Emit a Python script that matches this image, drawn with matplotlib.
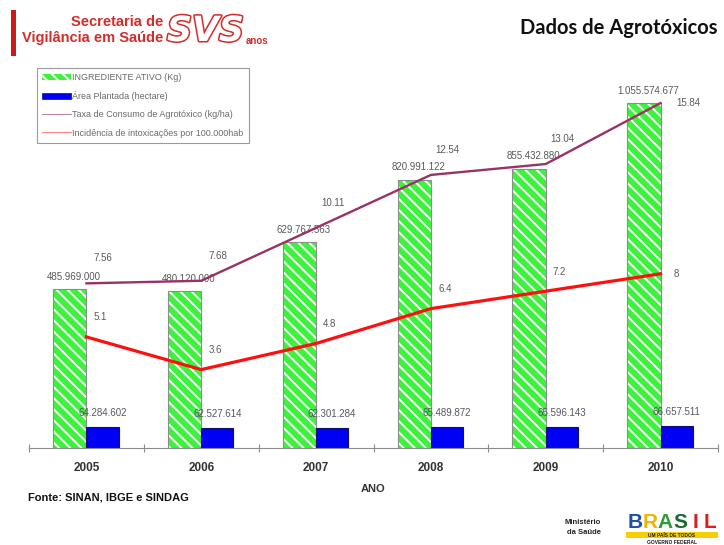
""" Dados de Agrotóxicos - SVS: ingrediente ativo, área plantada, taxa de consumo e intoxicações.
"""
import numpy as np
import matplotlib
matplotlib.use('Agg')
import matplotlib.pyplot as plt
import matplotlib.patheffects as pe
from matplotlib.patches import Patch, Rectangle
from matplotlib.lines import Line2D

### Dados

ANOS = ['2005', '2006', '2007', '2008', '2009', '2010']
INGREDIENTE_ATIVO = [485969000, 480120000, 629767563, 820991122, 855432880, 1055574677]   # kg
AREA_PLANTADA = [64284602, 62527614, 62301284, 65489872, 65596143, 66657511]             # hectare
TAXA_CONSUMO = [7.56, 7.68, 10.11, 12.54, 13.04, 15.84]                                   # kg/ha
INCIDENCIA = [5.1, 3.6, 4.8, 6.4, 7.2, 8]                                                  # por 100.000 hab

LEGENDA = ['INGREDIENTE ATIVO (Kg)',
           'Área Plantada (hectare)',
           'Taxa de Consumo de Agrotóxico (kg/ha)',
           'Incidência de intoxicações por 100.000hab']

### Estilo

W, H = 724, 545
VERDE = '#3cf23c'
AZUL = '#0000f5'
ROXO = '#993366'
VERMELHO = '#ff1010'
CINZA_TEXTO = '#5a5a5a'
VERMELHO_SVS = '#d42b2b'
HACHURA = '\\\\\\'

plt.rcParams['font.family'] = ['Liberation Sans', 'DejaVu Sans']
plt.rcParams['hatch.linewidth'] = 1.4


def fx(px):
    return px / W


def fy(py):
    return 1 - py / H


fmt_milhar = lambda v: f'{v:,}'.replace(',', '.')

fig = plt.figure(figsize=(W / 100, H / 100), dpi=100)
ax = fig.add_axes([fx(29), fy(448), fx(718) - fx(29), fy(56) - fy(448)])
ax2 = ax.twinx()

x = np.arange(len(ANOS))
w_verde, w_azul = 0.29, 0.28

### Barras

# listras brancas sobre o verde, depois o contorno cinza
ax.bar(x - w_verde / 2, INGREDIENTE_ATIVO, width=w_verde, color=VERDE,
       edgecolor='white', hatch=HACHURA, linewidth=0)
ax.bar(x - w_verde / 2, INGREDIENTE_ATIVO, width=w_verde, fill=False,
       edgecolor='#8c8c8c', linewidth=0.8)
ax.bar(x + w_azul / 2, AREA_PLANTADA, width=w_azul, color=AZUL,
       edgecolor='#10106a', linewidth=0.8)

for xi, v in zip(x, INGREDIENTE_ATIVO):
    ax.annotate(fmt_milhar(v), (xi - w_verde / 2, v), xytext=(3, 9), textcoords='offset points',
                ha='center', va='center', fontsize=7, color=CINZA_TEXTO)
for xi, v in zip(x, AREA_PLANTADA):
    ax.annotate(fmt_milhar(v), (xi + w_azul / 2, v), xytext=(0, 10), textcoords='offset points',
                ha='center', va='center', fontsize=7, color='#55556a')

ax.set_ylim(0, 1200e6)
ax.set_xlim(-0.5, len(ANOS) - 0.5)

### Linhas (eixo secundário)

ax2.plot(x, TAXA_CONSUMO, color=ROXO, linewidth=1.7)
ax2.plot(x, INCIDENCIA, color=VERMELHO, linewidth=2.3)
ax2.set_ylim(0, 18)

ultimo = len(ANOS) - 1
for i, (xi, v) in enumerate(zip(x, TAXA_CONSUMO)):
    off = (20, 0) if i == ultimo else (12, 18)
    ax2.annotate(f'{v:g}', (xi, v), xytext=off, textcoords='offset points',
                 ha='center', va='center', fontsize=7, color=CINZA_TEXTO)
for i, (xi, v) in enumerate(zip(x, INCIDENCIA)):
    off = (11, 0) if i == ultimo else (10, 14)
    ax2.annotate(f'{v:g}', (xi, v), xytext=off, textcoords='offset points',
                 ha='center', va='center', fontsize=7, color=CINZA_TEXTO)

### Eixos

for a in (ax, ax2):
    for s in ['left', 'right', 'top']:
        a.spines[s].set_visible(False)
    a.set_yticks([])
ax2.spines['bottom'].set_visible(False)
ax.spines['bottom'].set_color('#8c8c8c')

ax.set_xticks(np.arange(-0.5, len(ANOS), 1))
ax.set_xticklabels([])
ax.tick_params(axis='x', which='major', direction='inout', length=6, color='#8c8c8c')
ax.set_xticks(x, minor=True)
ax.set_xticklabels(ANOS, minor=True, fontsize=8.5, fontweight='bold', color='#333333')
ax.tick_params(axis='x', which='minor', length=0, pad=10)
ax.set_xlabel('ANO', fontsize=8, fontweight='bold', color='#333333', labelpad=7)

### Legenda

handles = [Patch(facecolor=VERDE, edgecolor='white', hatch=HACHURA, linewidth=0),
           Patch(facecolor=AZUL, edgecolor='#10106a', linewidth=0.5),
           Line2D([], [], color=ROXO, linewidth=0.8, alpha=0.6),
           Line2D([], [], color=VERMELHO, linewidth=0.8, alpha=0.5)]
leg = ax2.legend(handles, LEGENDA, loc='upper left', bbox_to_anchor=(fx(37), fy(68)),
                 bbox_transform=fig.transFigure, borderaxespad=0, fontsize=6.5,
                 fancybox=False, edgecolor='#9a9a9a', framealpha=1, labelspacing=1.0,
                 handlelength=3.2, handleheight=0.6, handletextpad=0.1, borderpad=0.6)
leg.get_frame().set_linewidth(0.8)
for t in leg.get_texts():
    t.set_color('#6a6a6a')

### Cabeçalho e rodapé

fig.add_artist(Rectangle((fx(11), fy(56)), fx(5), 46 / H, transform=fig.transFigure,
                         color='#cc1a1a', linewidth=0))
fig.text(fx(163), fy(22), 'Secretaria de', ha='right', va='center', fontsize=10.5,
         fontweight='bold', color=VERMELHO_SVS)
fig.text(fx(163), fy(38), 'Vigilância em Saúde', ha='right', va='center', fontsize=10.5,
         fontweight='bold', color=VERMELHO_SVS)
fig.text(fx(167), fy(31), 'SVS', ha='left', va='center', fontsize=25, fontweight='heavy',
         fontstyle='italic', color='white', family='DejaVu Sans',
         path_effects=[pe.withStroke(linewidth=2.2, foreground=VERMELHO_SVS)])
fig.text(fx(246), fy(41), 'anos', ha='left', va='center', fontsize=7,
         fontweight='bold', color=VERMELHO_SVS)

fig.text(fx(718), fy(28), 'Dados de Agrotóxicos', ha='right', va='center', fontsize=14.5,
         fontweight='bold', color='#111111', family=['Lato', 'DejaVu Sans'])

fig.text(fx(28), fy(497), 'Fonte: SINAN, IBGE e SINDAG', ha='left', va='center',
         fontsize=8, fontweight='bold', color='#111111')

fig.text(fx(601), fy(522), 'Ministério', ha='right', va='center', fontsize=5.5,
         fontweight='bold', color='#222222')
fig.text(fx(601), fy(532), 'da Saúde', ha='right', va='center', fontsize=5.5,
         fontweight='bold', color='#222222')

# logotipo BRASIL simplificado
letras = ['B', 'R', 'A', 'S', 'I', 'L']
cores_letras = ['#1f4fa8', '#f0b400', '#2e9b3a', '#1d6a30', '#d92020', '#d92020']
for i, (l, c) in enumerate(zip(letras, cores_letras)):
    fig.text(fx(635 + i * 15), fy(522), l, ha='center', va='center', fontsize=15,
             fontweight='heavy', color=c)
fig.add_artist(Rectangle((fx(626), fy(538)), fx(92), 6 / H, transform=fig.transFigure,
                         color='#f5d000', linewidth=0))
fig.text(fx(672), fy(535), 'UM PAÍS DE TODOS', ha='center', va='center', fontsize=3.5,
         fontweight='bold', color='#1a1a1a')
fig.text(fx(672), fy(542), 'GOVERNO FEDERAL', ha='center', va='center', fontsize=3.5,
         fontweight='bold', color='#1a1a1a')

fig.savefig('out.png', dpi=100)
